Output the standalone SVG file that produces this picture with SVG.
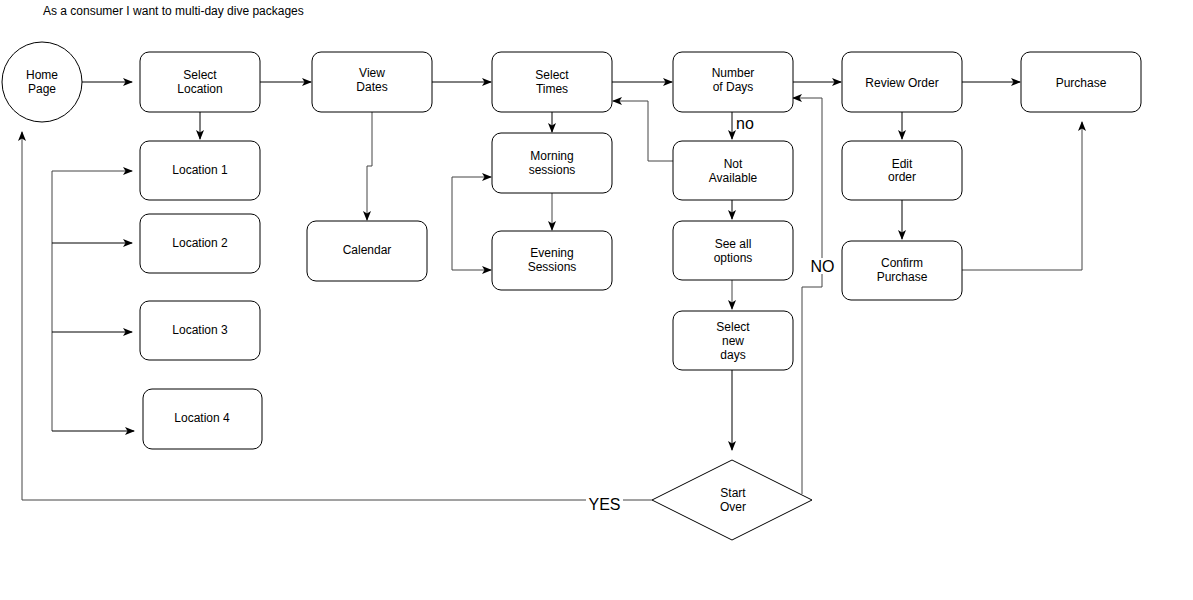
<svg xmlns="http://www.w3.org/2000/svg" width="1193" height="600" viewBox="0 0 1193 600">
<style>
.n{fill:#fff;stroke:#000;stroke-width:1}
.t{font-family:"Liberation Sans",Arial,sans-serif;font-size:12px;fill:#000;text-anchor:middle}
.c{fill:none;stroke:#000;stroke-width:1}
.g{fill:none;stroke:#444;stroke-width:1}
.lb{font-family:"Liberation Sans",Arial,sans-serif;font-size:16px;fill:#000}
</style>
<defs>
<marker id="a" viewBox="0 0 10 8" refX="9" refY="4" markerWidth="10" markerHeight="8" markerUnits="userSpaceOnUse" orient="auto-start-reverse">
<path d="M0,0 L10,4 L0,8 L2.5,4 z" fill="#000"/>
</marker>
</defs>
<rect width="1193" height="600" fill="#fff"/>
<text x="43" y="15" style="font-family:'Liberation Sans',Arial,sans-serif;font-size:12px;fill:#000">As a consumer I want to multi-day dive packages</text>

<g id="connectors">
<path class="c" d="M82,82 H132" marker-end="url(#a)"/>
<path class="c" d="M260,82 H311" marker-end="url(#a)"/>
<path class="c" d="M432,82 H491" marker-end="url(#a)"/>
<path class="c" d="M612,82 H672" marker-end="url(#a)"/>
<path class="c" d="M793,82 H841" marker-end="url(#a)"/>
<path class="c" d="M962,82 H1020" marker-end="url(#a)"/>
<path class="c" d="M200,112 V139" marker-end="url(#a)"/>
<path class="g" d="M52,171 H132" marker-end="url(#a)"/>
<path class="g" d="M52,171 V431"/>
<path class="c" d="M52,243 H132" marker-end="url(#a)"/>
<path class="c" d="M52,332 H132" marker-end="url(#a)"/>
<path class="c" d="M52,431 H134" marker-end="url(#a)"/>
<path class="g" d="M372,112 V166 H367 V220" marker-end="url(#a)"/>
<path class="c" d="M552,112 V132" marker-end="url(#a)"/>
<path class="g" d="M552,193 V230" marker-end="url(#a)"/>
<path class="g" d="M491,177 H452 V270 H491" marker-start="url(#a)" marker-end="url(#a)"/>
<path class="c" d="M732,112 V139" marker-end="url(#a)"/>
<path class="g" d="M673,161 H648 V101 H613" marker-end="url(#a)"/>
<path class="c" d="M732,200 V219" marker-end="url(#a)"/>
<path class="g" d="M732,280 V309" marker-end="url(#a)"/>
<path class="c" d="M732,370 V450" marker-end="url(#a)"/>
<path class="g" d="M802,494 V287 H822 V98 H793" marker-end="url(#a)"/>
<path class="g" d="M652,500 H22 V132" marker-end="url(#a)"/>
<path class="c" d="M902,112 V139" marker-end="url(#a)"/>
<path class="c" d="M902,200 V239" marker-end="url(#a)"/>
<path class="g" d="M962,270 H1082 V122" marker-end="url(#a)"/>
<rect x="586" y="494" width="37" height="14" fill="#fff"/>
<text class="lb" x="604.5" y="510" text-anchor="middle">YES</text>
<rect x="810" y="258" width="25" height="16" fill="#fff"/>
<text class="lb" x="822.5" y="272" text-anchor="middle">NO</text>
<text class="lb" x="736" y="129">no</text>
</g>

<g id="home"><circle class="n" cx="42" cy="82" r="40"/><text class="t" x="42" y="79">Home</text><text class="t" x="42" y="93">Page</text></g>
<g id="selectLocation"><rect class="n" x="140" y="52" width="120" height="60" rx="9"/><text class="t" x="200" y="79">Select</text><text class="t" x="200" y="93">Location</text></g>
<g id="location1"><rect class="n" x="140" y="141" width="120" height="59" rx="9"/><text class="t" x="200" y="174">Location 1</text></g>
<g id="location2"><rect class="n" x="140" y="214" width="120" height="59" rx="9"/><text class="t" x="200" y="247">Location 2</text></g>
<g id="location3"><rect class="n" x="140" y="301" width="120" height="59" rx="9"/><text class="t" x="200" y="334">Location 3</text></g>
<g id="location4"><rect class="n" x="143" y="389" width="119" height="60" rx="9"/><text class="t" x="202" y="422">Location 4</text></g>
<g id="viewDates"><rect class="n" x="312" y="52" width="120" height="60" rx="9"/><text class="t" x="372" y="77">View</text><text class="t" x="372" y="91">Dates</text></g>
<g id="calendar"><rect class="n" x="307" y="221" width="120" height="60" rx="9"/><text class="t" x="367" y="254">Calendar</text></g>
<g id="selectTimes"><rect class="n" x="492" y="52" width="120" height="60" rx="9"/><text class="t" x="552" y="79">Select</text><text class="t" x="552" y="93">Times</text></g>
<g id="morning"><rect class="n" x="492" y="133" width="120" height="60" rx="9"/><text class="t" x="552" y="160">Morning</text><text class="t" x="552" y="174">sessions</text></g>
<g id="evening"><rect class="n" x="492" y="231" width="120" height="59" rx="9"/><text class="t" x="552" y="257">Evening</text><text class="t" x="552" y="271">Sessions</text></g>
<g id="numberOfDays"><rect class="n" x="673" y="52" width="120" height="60" rx="9"/><text class="t" x="733" y="77">Number</text><text class="t" x="733" y="91">of Days</text></g>
<g id="notAvailable"><rect class="n" x="673" y="141" width="120" height="59" rx="9"/><text class="t" x="733" y="168">Not</text><text class="t" x="733" y="182">Available</text></g>
<g id="seeAll"><rect class="n" x="673" y="221" width="120" height="59" rx="9"/><text class="t" x="733" y="248">See all</text><text class="t" x="733" y="262">options</text></g>
<g id="selectNewDays"><rect class="n" x="673" y="311" width="120" height="59" rx="9"/><text class="t" x="733" y="331">Select</text><text class="t" x="733" y="345">new</text><text class="t" x="733" y="359">days</text></g>
<g id="startOver"><polygon class="n" points="732,460 812,500 732,540 652,500"/><text class="t" x="733" y="497">Start</text><text class="t" x="733" y="511">Over</text></g>
<g id="reviewOrder"><rect class="n" x="842" y="52" width="120" height="60" rx="9"/><text class="t" x="902" y="87">Review Order</text></g>
<g id="purchase"><rect class="n" x="1021" y="52" width="120" height="60" rx="9"/><text class="t" x="1081" y="87">Purchase</text></g>
<g id="editOrder"><rect class="n" x="842" y="141" width="120" height="59" rx="9"/><text class="t" x="902" y="168">Edit</text><text class="t" x="902" y="181">order</text></g>
<g id="confirmPurchase"><rect class="n" x="842" y="241" width="120" height="59" rx="9"/><text class="t" x="902" y="267">Confirm</text><text class="t" x="902" y="281">Purchase</text></g>
</svg>
